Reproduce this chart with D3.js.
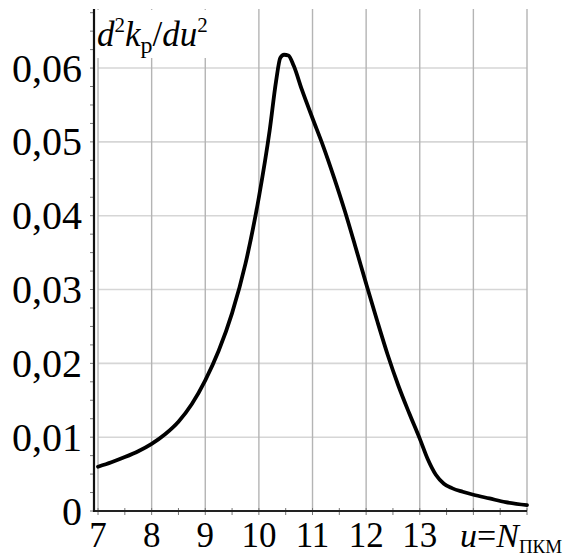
<!DOCTYPE html>
<html>
<head>
<meta charset="utf-8">
<script src="https://cdn.jsdelivr.net/npm/d3@7"></script>
<style>
  html, body { margin: 0; padding: 0; background: #fff; }
  svg { display: block; font-family: "Liberation Serif", "Times New Roman", serif; }
</style>
</head>
<body>
<svg id="chart" width="566" height="557"></svg>
<script>
// Second derivative of k_p with respect to u
const uValues = [7, 7.25, 7.5, 7.75, 8, 8.25, 8.5, 8.75, 9, 9.25, 9.5, 9.75, 10, 10.2, 10.32,
  10.4, 10.47, 10.55, 10.65, 10.8, 11, 11.2, 11.4, 11.6, 11.8, 12, 12.2, 12.4, 12.6, 12.8,
  13, 13.15, 13.3, 13.45, 13.6, 13.8, 14, 14.3, 14.6, 15];
const d2kValues = [0.0060, 0.0066, 0.0073, 0.0081, 0.0091, 0.0104, 0.0121, 0.0145, 0.0177,
  0.0217, 0.0268, 0.0335, 0.0425, 0.0515, 0.0582, 0.0614, 0.0618, 0.0617, 0.0603, 0.0571,
  0.0532, 0.0494, 0.0452, 0.0407, 0.0358, 0.0308, 0.0259, 0.0212, 0.0170, 0.0133, 0.0098,
  0.0070, 0.0049, 0.0037, 0.0031, 0.0026, 0.0022, 0.0017, 0.0012, 0.0008];

const xTicks = [7, 8, 9, 10, 11, 12, 13];
const xGrid = [7, 8, 9, 10, 11, 12, 13, 14, 15];
const yTicks = [0, 0.01, 0.02, 0.03, 0.04, 0.05, 0.06];
const yTickLabels = ["0", "0,01", "0,02", "0,03", "0,04", "0,05", "0,06"];

const svg = d3.select("#chart");

const x = d3.scaleLinear().domain([6.925, 15]).range([94, 527]);
const y = d3.scaleLinear().domain([0, 0.068]).range([511, 9]);

// grid
svg.append("g")
  .selectAll("line")
  .data(yTicks.filter(d => d > 0))
  .join("line")
  .attr("x1", x(7)).attr("x2", x(15))
  .attr("y1", d => y(d)).attr("y2", d => y(d))
  .attr("stroke", "#d6d6d6").attr("stroke-width", 1.6);

svg.append("g")
  .selectAll("line")
  .data(xGrid)
  .join("line")
  .attr("x1", d => x(d)).attr("x2", d => x(d))
  .attr("y1", y.range()[1]).attr("y2", y(0))
  .attr("stroke", "#b4b4b4").attr("stroke-width", 1.4);

// minor ticks
const xMinor = d3.range(7, 15.01, 0.5);
svg.append("g")
  .selectAll("line")
  .data(xMinor)
  .join("line")
  .attr("x1", d => x(d)).attr("x2", d => x(d))
  .attr("y1", y(0) - 3).attr("y2", y(0) + 4)
  .attr("stroke", "#777").attr("stroke-width", 1);

const yMinor = d3.range(0, 0.0676, 0.0025);
svg.append("g")
  .selectAll("line")
  .data(yMinor)
  .join("line")
  .attr("x1", x.range()[0] - 4).attr("x2", x.range()[0])
  .attr("y1", d => y(d)).attr("y2", d => y(d))
  .attr("stroke", "#777").attr("stroke-width", 1);

// axes
svg.append("line")
  .attr("x1", x.range()[0]).attr("x2", x.range()[1])
  .attr("y1", y(0)).attr("y2", y(0))
  .attr("stroke", "#222").attr("stroke-width", 2);
svg.append("line")
  .attr("x1", x.range()[0]).attr("x2", x.range()[0])
  .attr("y1", y.range()[1]).attr("y2", y(0) + 1)
  .attr("stroke", "#111").attr("stroke-width", 2.2);

// tick labels
svg.append("g")
  .selectAll("text")
  .data(xTicks)
  .join("text")
  .attr("x", d => x(d)).attr("y", 547)
  .attr("text-anchor", "middle")
  .attr("font-size", 35)
  .text(d => d);

svg.append("g")
  .selectAll("text")
  .data(yTicks)
  .join("text")
  .attr("x", 82).attr("y", d => y(d))
  .attr("dy", "0.34em")
  .attr("text-anchor", "end")
  .attr("font-size", 40)
  .text((d, i) => yTickLabels[i]);

// curve
const line = d3.line()
  .x((d, i) => x(uValues[i]))
  .y(d => y(d))
  .curve(d3.curveMonotoneX);

svg.append("path")
  .datum(d2kValues)
  .attr("d", line)
  .attr("fill", "none")
  .attr("stroke", "#000")
  .attr("stroke-width", 3.8)
  .attr("stroke-linejoin", "round")
  .attr("stroke-linecap", "round");

// y title with white backing
svg.append("rect")
  .attr("x", x.range()[0] + 2).attr("y", y.range()[1] + 1)
  .attr("width", 130).attr("height", 48)
  .attr("fill", "#fff");

const yTitle = svg.append("text")
  .attr("x", 97).attr("y", 46)
  .attr("font-size", 35);
yTitle.append("tspan").attr("font-style", "italic").text("d");
yTitle.append("tspan").attr("font-size", 21).attr("dy", -14).text("2");
yTitle.append("tspan").attr("font-style", "italic").attr("dy", 14).text("k");
yTitle.append("tspan").attr("font-size", 24).attr("dy", 7).text("p");
yTitle.append("tspan").attr("dy", -7).text("/");
yTitle.append("tspan").attr("font-style", "italic").text("du");
yTitle.append("tspan").attr("font-size", 21).attr("dy", -14).text("2");

// x title
const xTitle = svg.append("text")
  .attr("x", 460).attr("y", 547)
  .attr("font-size", 34);
xTitle.append("tspan").attr("font-style", "italic").text("u");
xTitle.append("tspan").text("=");
xTitle.append("tspan").attr("font-style", "italic").text("N");
xTitle.append("tspan").attr("font-size", 19).attr("dy", 6).text("ПКМ");
</script>
</body>
</html>
